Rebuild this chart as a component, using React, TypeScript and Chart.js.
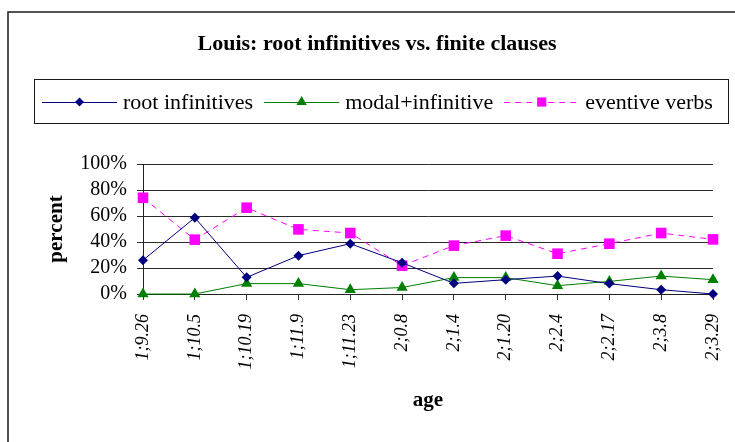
import React, { useEffect, useRef } from 'react';
import { Chart, registerables } from 'chart.js';

Chart.register(...registerables);

const chartTitle = 'Louis: root infinitives vs. finite clauses';
const xAxisTitle = 'age';
const yAxisTitle = 'percent';
const ages = ['1;9.26', '1;10.5', '1;10.19', '1;11.9', '1;11.23', '2;0.8', '2;1.4', '2;1.20', '2;2.4', '2;2.17', '2;3.8', '2;3.29'];
const seriesNames = ['root infinitives', 'modal+infinitive', 'eventive verbs'];
const rootInfinitives = [26, 58.7, 12.8, 29.5, 38.7, 24, 8.2, 11, 13.8, 8, 3.3, 0];
const modalInfinitive = [0, 0, 8, 8, 3.3, 5, 12.6, 12.6, 6.4, 9.7, 13.8, 11];
const eventiveVerbs = [74, 41.8, 66.4, 49.7, 46.9, 21.8, 37.2, 44.9, 31, 38.7, 46.9, 42];

const NAVY = '#000080';
const GREEN = '#008000';
const MAGENTA = '#FF00FF';
const FONT = '"Liberation Serif", "Times New Roman", serif';

function drawMarker(ctx: CanvasRenderingContext2D, style: string, x: number, y: number, r: number, color: string) {
  ctx.save();
  ctx.fillStyle = color;
  ctx.strokeStyle = color;
  ctx.setLineDash([]);
  ctx.beginPath();
  if (style === 'rectRot') {
    ctx.moveTo(x, y - r);
    ctx.lineTo(x + r, y);
    ctx.lineTo(x, y + r);
    ctx.lineTo(x - r, y);
  } else if (style === 'triangle') {
    ctx.moveTo(x, y - r);
    ctx.lineTo(x + r * 0.866, y + r / 2);
    ctx.lineTo(x - r * 0.866, y + r / 2);
  } else {
    const s = r * Math.SQRT1_2;
    ctx.rect(x - s, y - s, 2 * s, 2 * s);
  }
  ctx.closePath();
  ctx.fill();
  ctx.restore();
}

const decorPlugin = {
  id: 'decor',
  beforeDraw(chart: any) {
    const ctx = chart.ctx as CanvasRenderingContext2D;
    ctx.save();
    ctx.fillStyle = '#ffffff';
    ctx.fillRect(0, 0, chart.width, chart.height);
    ctx.strokeStyle = '#1a1a1a';
    ctx.lineWidth = 1.5;
    ctx.strokeRect(8, 12, chart.width + 40, chart.height + 40);
    ctx.restore();
  },
  afterDraw(chart: any) {
    const ctx = chart.ctx as CanvasRenderingContext2D;
    ctx.save();
    // title
    ctx.fillStyle = '#000';
    ctx.font = `bold 22px ${FONT}`;
    ctx.textAlign = 'center';
    ctx.textBaseline = 'middle';
    ctx.fillText(chartTitle, 377, 44);
    // legend box
    ctx.strokeStyle = '#1a1a1a';
    ctx.lineWidth = 1;
    ctx.strokeRect(34.5, 79.5, 694, 44);
    // legend items
    const styles = [
      { color: NAVY, dash: [] as number[], marker: 'rectRot', r: 4.5 },
      { color: GREEN, dash: [] as number[], marker: 'triangle', r: 6 },
      { color: MAGENTA, dash: [6, 5], marker: 'rect', r: 6.5 },
    ];
    ctx.font = `22px ${FONT}`;
    ctx.textAlign = 'left';
    let x = 42;
    const y = 102;
    seriesNames.forEach((name, i) => {
      const st = styles[i];
      ctx.strokeStyle = st.color;
      ctx.lineWidth = 1;
      ctx.setLineDash(st.dash);
      ctx.beginPath();
      ctx.moveTo(x, y + 0.5);
      ctx.lineTo(x + 75, y + 0.5);
      ctx.stroke();
      ctx.setLineDash([]);
      drawMarker(ctx, st.marker, x + 37.5, y, st.r, st.color);
      ctx.fillStyle = '#000';
      ctx.fillText(name, x + 81, y + 1);
      x += 81 + ctx.measureText(name).width + 11;
    });
    ctx.restore();
  },
};

export default function App() {
  const canvasRef = useRef<HTMLCanvasElement | null>(null);

  useEffect(() => {
    const canvas = canvasRef.current;
    if (!canvas) return;
    const chart = new Chart(canvas, {
      type: 'line',
      data: {
        labels: ages,
        datasets: [
          {
            label: seriesNames[0],
            data: rootInfinitives,
            borderColor: NAVY,
            backgroundColor: NAVY,
            borderWidth: 1,
            pointStyle: 'rectRot',
            pointRadius: 5,
            pointBorderWidth: 0,
            tension: 0,
            clip: false,
          },
          {
            label: seriesNames[1],
            data: modalInfinitive,
            borderColor: GREEN,
            backgroundColor: GREEN,
            borderWidth: 1,
            pointStyle: 'triangle',
            pointRadius: 6.5,
            pointBorderWidth: 0,
            tension: 0,
            clip: false,
          },
          {
            label: seriesNames[2],
            data: eventiveVerbs,
            borderColor: MAGENTA,
            backgroundColor: MAGENTA,
            borderWidth: 1,
            borderDash: [6, 5],
            pointStyle: 'rect',
            pointRadius: 7.5,
            pointBorderWidth: 0,
            tension: 0,
            clip: false,
          },
        ],
      },
      options: {
        responsive: false,
        animation: false,
        devicePixelRatio: 1,
        layout: { padding: { top: 164, right: 22, bottom: 0, left: 0 } },
        plugins: {
          legend: { display: false },
          title: { display: false },
          tooltip: { enabled: false },
        },
        scales: {
          x: {
            offset: false,
            grid: { drawOnChartArea: false, drawTicks: true, tickLength: 6, color: '#333' },
            border: { display: true, color: '#222', width: 1 },
            ticks: {
              color: '#000',
              font: { family: FONT, size: 18, style: 'italic' },
              minRotation: 90,
              maxRotation: 90,
              autoSkip: false,
              padding: 14,
            },
            title: {
              display: true,
              text: xAxisTitle,
              color: '#000',
              font: { family: FONT, size: 21, weight: 'bold' },
              padding: { top: 0, bottom: 29 },
            },
            afterFit: (scale: any) => {
              scale.height = 148;
              scale.paddingLeft = 0;
              scale.paddingRight = 0;
            },
          },
          y: {
            min: 0,
            max: 100,
            grid: { drawOnChartArea: true, drawTicks: true, tickLength: 6, color: '#2a2a2a' },
            border: { display: true, color: '#222', width: 1 },
            ticks: {
              stepSize: 20,
              autoSkip: false,
              color: '#000',
              font: { family: FONT, size: 20 },
              padding: 10,
              callback: (v: any) => `${v}%`,
            },
            title: {
              display: true,
              text: yAxisTitle,
              color: '#000',
              font: { family: FONT, size: 21, weight: 'bold' },
              padding: { top: 44, bottom: 0 },
            },
            afterFit: (scale: any) => {
              scale.width = 143;
              scale.paddingTop = 0;
              scale.paddingBottom = 0;
            },
          },
        },
      },
      plugins: [decorPlugin],
    });
    return () => chart.destroy();
  }, []);

  return (
    <div style={{ position: 'fixed', left: 0, top: 0, width: 735, height: 442 }}>
      <canvas ref={canvasRef} width={735} height={442} style={{ display: 'block' }} />
    </div>
  );
}
